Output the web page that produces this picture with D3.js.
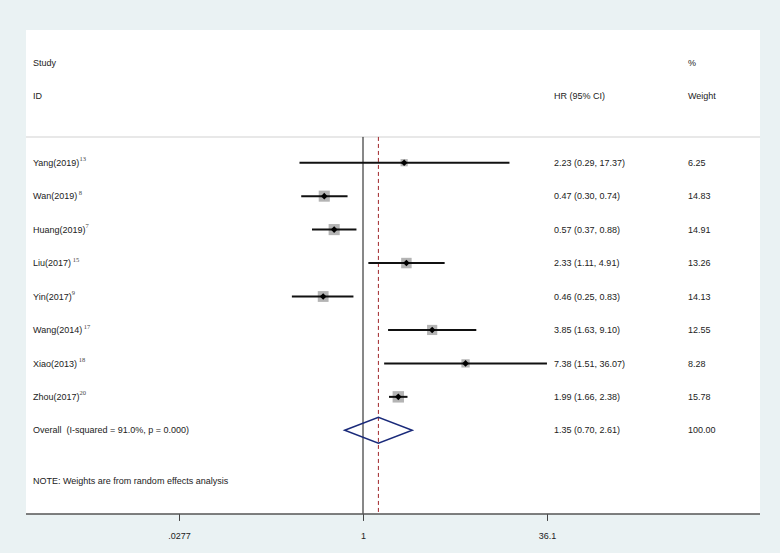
<!DOCTYPE html>
<html>
<head>
<meta charset="utf-8">
<script src="https://cdn.jsdelivr.net/npm/d3@7"></script>
<style>
  body { margin: 0; background: #eaf2f3; }
  svg { display: block; }
  .lbl { font-family: "Liberation Sans", Arial, sans-serif; font-size: 9px; fill: #222; }
  .sup { font-family: "Liberation Serif", "Times New Roman", serif; font-size: 6.5px; fill: #444; }
</style>
</head>
<body>
<svg width="780" height="553"></svg>
<script>
// study data
const studies = ["Yang(2019)", "Wan(2019)", "Huang(2019)", "Liu(2017)", "Yin(2017)", "Wang(2014)", "Xiao(2013)", "Zhou(2017)"];
const refs = ["13", " 8", "7", " 15", "9", " 17", " 18", "20"];
const hr = [2.23, 0.47, 0.57, 2.33, 0.46, 3.85, 7.38, 1.99];
const lower = [0.29, 0.30, 0.37, 1.11, 0.25, 1.63, 1.51, 1.66];
const upper = [17.37, 0.74, 0.88, 4.91, 0.83, 9.10, 36.07, 2.38];
const weights = [6.25, 14.83, 14.91, 13.26, 14.13, 12.55, 8.28, 15.78];
const overall = { label: "Overall  (I-squared = 91.0%, p = 0.000)", hr: 1.35, lo: 0.70, hi: 2.61, weight: "100.00" };
const xTicks = [0.0277, 1, 36.1];
const xTickLabels = [".0277", "1", "36.1"];

const svg = d3.select("svg"),
  panel = { left: 26, right: 760, top: 30 };

// x: log scale for hazard ratios
const x = d3.scaleLog().domain([0.0277, 36.1]).range([179, 547]);
// rows: -3 "Study", -2 "ID", 0..7 studies, 8 overall, 9.5 note, 10.5 axis
const row = d3.scaleLinear().domain([0, 1]).range([162.7, 196.15]);
const axisY = row(10.5);
const size = d3.scaleSqrt().domain([0, 16]).range([0, 11.5]);

svg.append("rect")
  .attr("x", panel.left).attr("y", panel.top)
  .attr("width", panel.right - panel.left)
  .attr("height", axisY - panel.top)
  .attr("fill", "#fff");

// header
const headers = [
  { t: "Study", x: 33, r: -3 }, { t: "ID", x: 33, r: -2 },
  { t: "HR (95% CI)", x: 554, r: -2 },
  { t: "%", x: 688, r: -3 }, { t: "Weight", x: 688, r: -2 }
];
svg.selectAll(".hdr").data(headers).join("text")
  .attr("class", "lbl")
  .attr("x", d => d.x).attr("y", d => row(d.r)).attr("dy", "0.35em")
  .text(d => d.t);

const sepY = row(-0.77);
svg.append("line")
  .attr("x1", panel.left).attr("x2", panel.right)
  .attr("y1", sepY).attr("y2", sepY)
  .attr("stroke", "#e0e0e0").attr("stroke-width", 1.5);

// null line and overall effect line
svg.append("line")
  .attr("x1", x(1)).attr("x2", x(1))
  .attr("y1", sepY).attr("y2", axisY)
  .attr("stroke", "#111").attr("stroke-width", 1);
svg.append("line")
  .attr("x1", x(overall.hr)).attr("x2", x(overall.hr))
  .attr("y1", sepY).attr("y2", axisY)
  .attr("stroke", "#a0262a").attr("stroke-width", 1)
  .attr("stroke-dasharray", "4,3");

const data = studies.map((s, i) => ({
  name: s, ref: refs[i], hr: hr[i], lo: lower[i], hi: upper[i], w: weights[i], i: i
}));

const g = svg.selectAll(".study").data(data).join("g")
  .attr("class", "study")
  .attr("transform", d => `translate(0,${row(d.i)})`);

// weight boxes
g.append("rect")
  .attr("x", d => x(d.hr) - size(d.w) / 2)
  .attr("y", d => -size(d.w) / 2)
  .attr("width", d => size(d.w))
  .attr("height", d => size(d.w))
  .attr("fill", "#b4b4b4");

g.append("line")
  .attr("x1", d => x(d.lo)).attr("x2", d => x(d.hi))
  .attr("stroke", "#111").attr("stroke-width", 2);

// point estimate marker (square diamond)
g.append("path")
  .attr("transform", d => `translate(${x(d.hr)},0) rotate(45)`)
  .attr("d", d3.symbol(d3.symbolSquare).size(22))
  .attr("fill", "#000");

const name = g.append("text")
  .attr("class", "lbl")
  .attr("x", 33).attr("dy", "0.35em")
  .text(d => d.name);
name.append("tspan")
  .attr("class", "sup")
  .attr("dy", "-0.7em")
  .style("white-space", "pre")
  .text(d => d.ref);

g.append("text")
  .attr("class", "lbl")
  .attr("x", 554).attr("dy", "0.35em")
  .text(d => `${d.hr.toFixed(2)} (${d.lo.toFixed(2)}, ${d.hi.toFixed(2)})`);

g.append("text")
  .attr("class", "lbl")
  .attr("x", 688).attr("dy", "0.35em")
  .text(d => d.w.toFixed(2));

// overall diamond
const oy = row(8), dh = 13;
svg.append("path")
  .attr("d", `M${x(overall.lo)},${oy}L${x(overall.hr)},${oy - dh}L${x(overall.hi)},${oy}L${x(overall.hr)},${oy + dh}Z`)
  .attr("fill", "none")
  .attr("stroke", "#1a2a7a")
  .attr("stroke-width", 1.5);

svg.append("text").attr("class", "lbl")
  .attr("x", 33).attr("y", oy).attr("dy", "0.35em")
  .style("white-space", "pre")
  .text(overall.label);
svg.append("text").attr("class", "lbl")
  .attr("x", 554).attr("y", oy).attr("dy", "0.35em")
  .text(`${overall.hr.toFixed(2)} (${overall.lo.toFixed(2)}, ${overall.hi.toFixed(2)})`);
svg.append("text").attr("class", "lbl")
  .attr("x", 688).attr("y", oy).attr("dy", "0.35em")
  .text(overall.weight);

svg.append("text").attr("class", "lbl")
  .attr("x", 33).attr("y", row(9.5)).attr("dy", "0.35em")
  .text("NOTE: Weights are from random effects analysis");

// bottom axis
const axis = svg.append("g")
  .attr("transform", `translate(0,${axisY})`)
  .call(d3.axisBottom(x).tickValues(xTicks).tickFormat((d, i) => xTickLabels[i]).tickSize(7).tickPadding(12));
axis.select(".domain").remove();
axis.append("line")
  .attr("x1", panel.left).attr("x2", panel.right)
  .attr("stroke", "#555").attr("stroke-width", 1.5);
axis.selectAll(".tick line").attr("stroke", "#444");
axis.selectAll(".tick text")
  .attr("class", "lbl")
  .attr("fill", "#222");
</script>
</body>
</html>
